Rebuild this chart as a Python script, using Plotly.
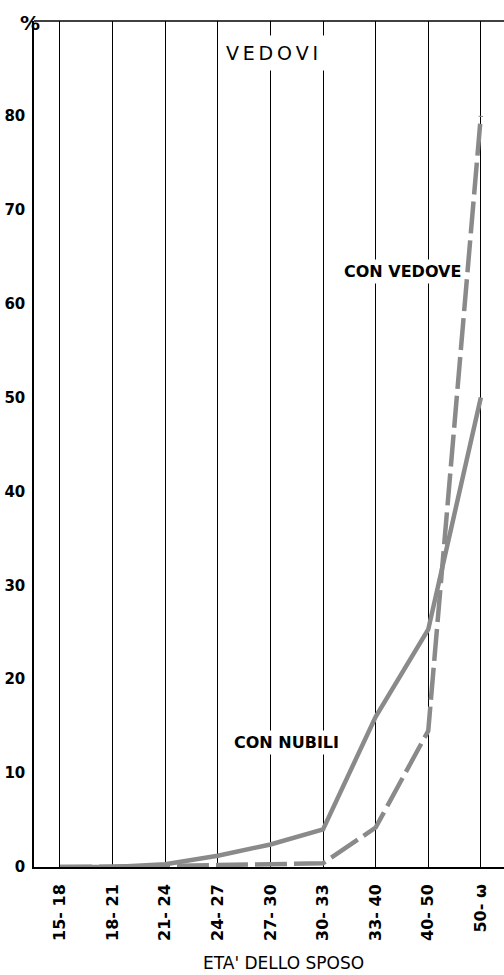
import plotly.graph_objects as go

categories = ["15- 18", "18- 21", "21- 24", "24- 27", "27- 30", "30- 33", "33- 40", "40- 50", "50- ω"]
con_nubili = [0, 0, 0.3, 1.2, 2.4, 4.0, 16.0, 25.3, 50.0]
con_vedove = [0, 0, 0.1, 0.2, 0.3, 0.4, 4.2, 14.5, 80.0]
y_ticks = [0, 10, 20, 30, 40, 50, 60, 70, 80]

LINE = "#8a8a8a"
FONT = "DejaVu Sans"

fig = go.Figure()
x_idx = list(range(len(categories)))
fig.add_trace(go.Scatter(x=x_idx, y=con_nubili, mode="lines",
                         line=dict(color=LINE, width=4.5), showlegend=False))
fig.add_trace(go.Scatter(x=x_idx, y=con_vedove, mode="lines",
                         line=dict(color=LINE, width=4.5, dash="32px,7px"), showlegend=False))

fig.update_layout(
    width=504, height=975,
    margin=dict(l=34, r=0, t=21, b=108),
    paper_bgcolor="white", plot_bgcolor="white",
    font=dict(family=FONT, color="black"),
    xaxis=dict(
        range=[-0.494, 8.44], tickmode="array", tickvals=x_idx, ticktext=categories,
        tickangle=-90, tickfont=dict(size=16, family=FONT, weight="bold"),
        showgrid=True, gridcolor="black", gridwidth=1.3,
        showline=True, linecolor="black", linewidth=1.5, zeroline=False,
        ticks="", ticklabelstandoff=9,
    ),
    yaxis=dict(
        range=[0, 90.1], tickmode="array", tickvals=y_ticks,
        tickfont=dict(size=15, family=FONT, weight="bold"),
        showgrid=False, zeroline=False,
        showline=True, linecolor="black", linewidth=1.5,
        ticks="", ticklabelstandoff=4,
    ),
    shapes=[dict(type="line", xref="paper", yref="paper", x0=0, x1=1, y0=1, y1=1,
                 line=dict(color="black", width=1.5))],
)

ts = "\u2009"
fig.add_annotation(x=4.03, y=86.7, text=ts.join("VEDOVI"), showarrow=False,
                   font=dict(size=19, family=FONT), bgcolor="white", borderpad=6)
fig.add_annotation(x=6.52, y=63.4, text="CON VEDOVE", showarrow=False,
                   font=dict(size=16, family=FONT, weight="bold"), bgcolor="white", borderpad=2)
fig.add_annotation(x=4.3, y=13.3, text="CON NUBILI", showarrow=False,
                   font=dict(size=16, family=FONT, weight="bold"), bgcolor="white", borderpad=2)
fig.add_annotation(xref="paper", yref="paper", x=(18 - 34) / 470, y=1.0, text="%",
                   showarrow=False, yanchor="middle", yshift=-2,
                   font=dict(size=20, family=FONT, weight="bold"))
fig.add_annotation(xref="paper", yref="paper", x=(283 - 34) / 470, y=(867 - 963) / 846,
                   text="ETA' DELLO SPOSO", showarrow=False,
                   font=dict(size=17, family=FONT), yanchor="middle")

fig.write_html("out.html", config={"displayModeBar": False},
               post_script="document.body.style.margin='0';")
